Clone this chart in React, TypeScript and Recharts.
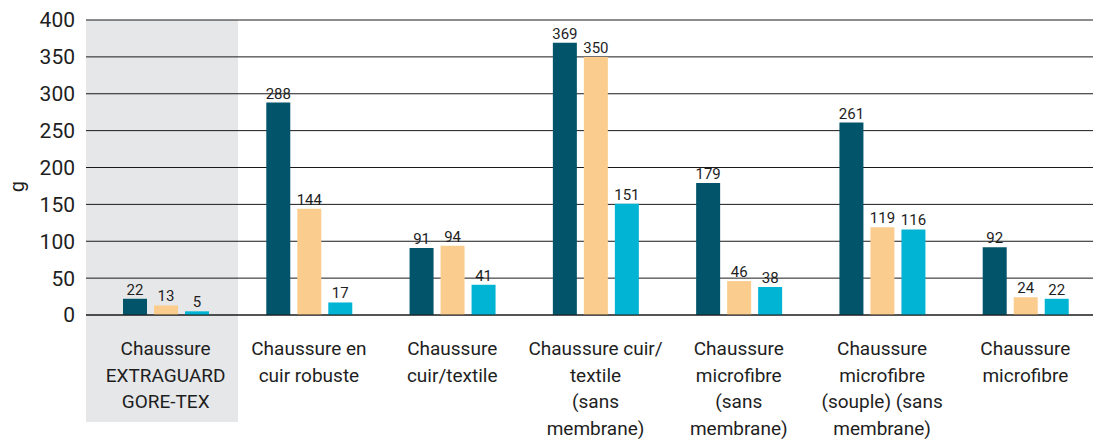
import { Bar, BarChart, CartesianGrid, LabelList, XAxis, YAxis } from "recharts";

const categories = [
  "Chaussure\nEXTRAGUARD\nGORE-TEX",
  "Chaussure en\ncuir robuste",
  "Chaussure\ncuir/textile",
  "Chaussure cuir/\ntextile\n(sans\nmembrane)",
  "Chaussure\nmicrofibre\n(sans\nmembrane)",
  "Chaussure\nmicrofibre\n(souple) (sans\nmembrane)",
  "Chaussure\nmicrofibre",
];

const seriesA = [22, 288, 91, 369, 179, 261, 92];
const seriesB = [13, 144, 94, 350, 46, 119, 24];
const seriesC = [5, 17, 41, 151, 38, 116, 22];

const yTicks = [0, 50, 100, 150, 200, 250, 300, 350, 400];

const data = categories.map((name, i) => ({
  name,
  a: seriesA[i],
  b: seriesB[i],
  c: seriesC[i],
}));

const FONT = "Roboto, 'Noto Sans', sans-serif";
const TEXT = "#1e1e1e";

function CategoryTick(props: any) {
  const { x, y, payload } = props;
  const lines = String(payload.value).split("\n");
  return (
    <g>
      {lines.map((line: string, i: number) => (
        <text
          key={i}
          x={x}
          y={y + 40 + i * 26.7}
          textAnchor="middle"
          fill={TEXT}
          fontSize={19}
          fontFamily={FONT}
        >
          {line}
        </text>
      ))}
    </g>
  );
}

function UnitLabel(props: any) {
  const vb = props.viewBox || { x: 0, y: 0, width: 0, height: 0 };
  const cx = vb.x + 17;
  const cy = vb.y + vb.height / 2 + 19;
  return (
    <text
      x={cx}
      y={cy}
      transform={`rotate(-90, ${cx}, ${cy})`}
      textAnchor="middle"
      dominantBaseline="central"
      fill={TEXT}
      fontSize={20}
      fontFamily={FONT}
    >
      g
    </text>
  );
}

export default function App() {
  return (
    <div
      style={{
        position: "absolute",
        left: 0,
        top: 0,
        width: 1093,
        height: 439,
        overflow: "hidden",
        background: "#ffffff",
      }}
    >
      <div
        style={{
          position: "absolute",
          left: 86,
          top: 20,
          width: 152,
          height: 402,
          background: "#e6e7e9",
        }}
      />
      <div style={{ position: "absolute", left: 0, top: 0 }}>
        <BarChart
          width={1100}
          height={439}
          data={data}
          margin={{ top: 20, right: 3, left: 0, bottom: 0 }}
          barGap={7}
          barSize={24}
        >
          <CartesianGrid vertical={false} stroke="#1a1a1a" strokeWidth={1} />
          <XAxis
            dataKey="name"
            axisLine={{ stroke: "#1a1a1a" }}
            tickLine={false}
            tickSize={0}
            tickMargin={0}
            height={124}
            interval={0}
            padding={{ left: 8, right: 0 }}
            tick={<CategoryTick />}
          />
          <YAxis
            domain={[0, 400]}
            ticks={yTicks}
            width={86}
            axisLine={false}
            tickLine={false}
            tickSize={6}
            tickMargin={5}
            tick={{ fill: TEXT, fontSize: 21, fontFamily: FONT }}
            label={<UnitLabel />}
          />
          <Bar dataKey="a" fill="#02546a" isAnimationActive={false}>
            <LabelList dataKey="a" position="top" offset={4} fill={TEXT} fontSize={15} fontFamily={FONT} />
          </Bar>
          <Bar dataKey="b" fill="#facd8f" isAnimationActive={false}>
            <LabelList dataKey="b" position="top" offset={4} fill={TEXT} fontSize={15} fontFamily={FONT} />
          </Bar>
          <Bar dataKey="c" fill="#02b4d4" isAnimationActive={false}>
            <LabelList dataKey="c" position="top" offset={4} fill={TEXT} fontSize={15} fontFamily={FONT} />
          </Bar>
        </BarChart>
      </div>
    </div>
  );
}
